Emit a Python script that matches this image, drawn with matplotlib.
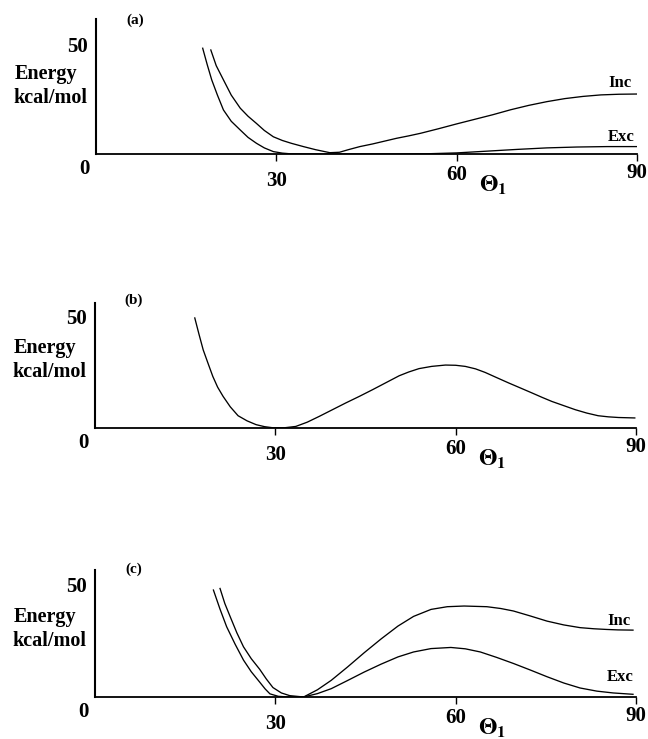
import matplotlib
matplotlib.use("Agg")
import matplotlib.pyplot as plt

plt.rcParams['font.family'] = ['Liberation Serif', 'DejaVu Serif']
plt.rcParams['font.weight'] = 'bold'
plt.rcParams['mathtext.fontset'] = 'stix'

# ---- data ----
theta_a_inc = [19.1, 20.0, 21.2, 22.5, 24.0, 25.3, 26.7, 28.0, 29.5, 31.0, 32.5, 34.5, 36.5, 38.9,
               40.5, 42.0, 43.9, 46.0, 48.0, 50.0, 52.0, 54.0, 57.0, 60.0, 63.0, 66.0, 69.0, 72.0,
               75.0, 78.0, 81.0, 84.0, 87.0, 90.0]
energy_a_inc = [47.7, 40.5, 34.0, 27.0, 21.0, 17.3, 14.0, 10.8, 7.9, 6.2, 4.9, 3.4, 2.0, 0.6,
                0.8, 2.0, 3.4, 4.6, 5.9, 7.2, 8.3, 9.5, 11.6, 13.8, 15.9, 18.0, 20.3, 22.3,
                24.0, 25.4, 26.4, 27.1, 27.4, 27.5]
theta_a_exc = [17.75, 18.5, 19.25, 20.2, 21.2, 22.5, 24.0, 25.3, 26.7, 28.0, 29.5, 31.0, 32.3,
               35.0, 40.0, 45.0, 50.0, 55.0, 60.0, 65.0, 70.0, 75.0, 80.0, 85.0, 90.0]
energy_a_exc = [48.5, 41.0, 34.0, 27.0, 20.2, 15.0, 11.0, 7.6, 4.9, 2.8, 1.1, 0.4, 0.1,
                0.0, 0.0, 0.0, 0.0, 0.1, 0.5, 1.3, 2.1, 2.8, 3.2, 3.4, 3.4]

theta_b = [16.6, 17.3, 18.0, 18.8, 19.6, 20.4, 21.3, 22.5, 23.8, 25.3, 26.8, 28.2, 29.6, 31.5,
           33.4, 35.3, 37.3, 39.5, 41.7, 44.0, 46.2, 48.4, 50.6, 52.2, 53.9, 56.0, 58.3, 60.0,
           61.6, 63.3, 64.9, 66.8, 68.8, 70.8, 72.7, 74.4, 76.0, 78.0, 79.9, 81.8, 83.7, 85.4,
           87.1, 89.8]
energy_b = [49.3, 42.0, 35.0, 29.0, 23.1, 18.3, 14.2, 9.5, 5.5, 3.2, 1.5, 0.6, 0.1, 0.1,
            0.7, 2.6, 5.2, 8.2, 11.2, 14.2, 17.2, 20.3, 23.4, 25.1, 26.6, 27.6, 28.2, 28.1,
            27.6, 26.5, 24.9, 22.6, 20.2, 17.9, 15.7, 13.7, 11.9, 10.0, 8.2, 6.7, 5.5, 5.0,
            4.7, 4.5]

theta_c_inc = [20.8, 21.6, 22.5, 23.6, 24.7, 26.0, 27.4, 28.5, 29.6, 31.0, 32.4, 34.7, 37.0,
               39.3, 42.0, 44.8, 47.6, 50.4, 53.0, 55.9, 58.6, 61.4, 65.2, 67.5, 69.6, 72.4,
               75.2, 78.0, 80.7, 83.0, 85.1, 87.0, 89.5]
energy_c_inc = [48.2, 41.5, 35.6, 28.5, 22.3, 17.0, 12.3, 8.0, 4.2, 1.8, 0.6, 0.0, 3.2,
                7.4, 13.3, 19.7, 25.8, 31.5, 35.8, 38.9, 40.1, 40.4, 40.1, 39.3, 38.2, 36.0,
                33.7, 32.0, 30.8, 30.3, 30.0, 29.8, 29.7]
theta_c_exc = [19.7, 20.8, 21.9, 23.3, 24.7, 26.0, 27.4, 28.3, 29.1, 30.5, 32.3, 34.7, 37.0,
               39.3, 42.0, 44.8, 47.6, 50.4, 53.0, 55.9, 59.2, 61.6, 64.1, 66.8, 69.6, 72.4,
               75.2, 78.0, 80.7, 83.5, 86.2, 89.5]
energy_c_exc = [47.5, 39.0, 31.2, 23.5, 16.4, 11.2, 6.6, 3.6, 1.4, 0.3, 0.0, 0.0, 1.5,
                3.7, 7.3, 11.1, 14.6, 17.8, 20.0, 21.5, 22.0, 21.4, 20.0, 17.6, 14.9, 12.0,
                9.0, 6.2, 4.0, 2.6, 1.8, 1.2]

panel_labels = ['(a)', '(b)', '(c)']
xtick_values = [30, 60, 90]
ytick_value = 50
series_names = ['Inc', 'Exc']

# ---- layout ----
W, H = 648, 739
fig = plt.figure(figsize=(W / 100, H / 100), dpi=100)
PX = 72 / 100  # points per pixel

def frac(x0, y_base, w, h):
    return [x0 / W, (H - y_base) / H, w / W, h / H]

ax_a = fig.add_axes(frac(96, 154, 541, 135))
ax_b = fig.add_axes(frac(95, 428, 541, 125))
ax_c = fig.add_axes(frac(95, 697, 541, 127))
axes = [ax_a, ax_b, ax_c]
ylims = [61.9, 56.0, 56.4]
label_dy = [134, 128, 128]

lw = 0.95
ax_a.plot(theta_a_inc, energy_a_inc, color='black', lw=lw)
ax_a.plot(theta_a_exc, energy_a_exc, color='black', lw=lw)
ax_b.plot(theta_b, energy_b, color='black', lw=lw)
ax_c.plot(theta_c_inc, energy_c_inc, color='black', lw=lw)
ax_c.plot(theta_c_exc, energy_c_exc, color='black', lw=lw)

tick_dy = {30: -27, 60: -21, 90: -19}

for ax, ylim, lab, ldy in zip(axes, ylims, panel_labels, label_dy):
    ax.set_xlim(0, 90)
    ax.set_ylim(0, ylim)
    for s in ['top', 'right']:
        ax.spines[s].set_visible(False)
    ax.spines['left'].set_linewidth(1.5)
    ax.spines['bottom'].set_linewidth(1.3)
    ax.patch.set_alpha(0)
    ax.set_yticks([ytick_value])
    ax.set_yticklabels([str(ytick_value)], fontsize=15, fontweight='bold')
    ax.tick_params(axis='y', length=0, pad=6)
    ax.set_xticks(xtick_values)
    ax.set_xticklabels([])
    ax.tick_params(axis='x', direction='out', length=5, width=1.0)
    for v in xtick_values:
        ax.annotate(str(v), xy=(v, 0), xycoords='data', xytext=(0, tick_dy[v] * PX),
                    textcoords='offset points', ha='center', va='center',
                    fontsize=15, fontweight='bold')
    ax.annotate('0', xy=(0, 0), xycoords='axes fraction', xytext=(-12 * PX, -15 * PX),
                textcoords='offset points', ha='center', va='center',
                fontsize=15, fontweight='bold')
    ax.annotate(r'$\Theta_{\mathbf{1}}$', xy=(66, 0), xycoords='data',
                xytext=(0, -31 * PX), textcoords='offset points', ha='center', va='center',
                fontsize=17)
    ax.annotate('Energy', xy=(0, 0), xycoords='axes fraction', xytext=(-50 * PX, 80 * PX),
                textcoords='offset points', ha='center', va='center',
                fontsize=14.5, fontweight='bold')
    ax.annotate('kcal/mol', xy=(0, 0), xycoords='axes fraction', xytext=(-46 * PX, 56 * PX),
                textcoords='offset points', ha='center', va='center',
                fontsize=14.5, fontweight='bold')
    ax.annotate(lab, xy=(0, 0), xycoords='axes fraction', xytext=(39 * PX, ldy * PX),
                textcoords='offset points', ha='center', va='center',
                fontsize=11, fontweight='bold')

ax_a.text(87.1, 32.6, series_names[0], ha='center', va='center', fontsize=12, fontweight='bold')
ax_a.text(87.3, 7.6, series_names[1], ha='center', va='center', fontsize=12, fontweight='bold')
ax_c.text(87.1, 33.9, series_names[0], ha='center', va='center', fontsize=12, fontweight='bold')
ax_c.text(87.3, 8.9, series_names[1], ha='center', va='center', fontsize=12, fontweight='bold')

fig.savefig('out.png', dpi=100)
